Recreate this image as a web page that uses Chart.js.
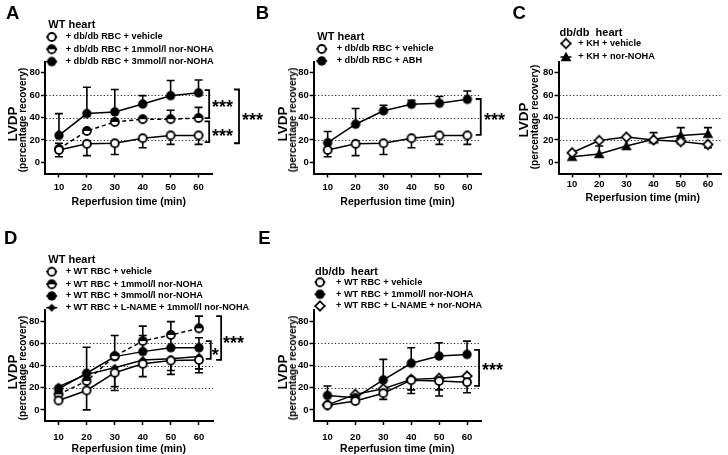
<!DOCTYPE html>
<html><head><meta charset="utf-8">
<script src="https://cdn.jsdelivr.net/npm/chart.js@4.4.1/dist/chart.umd.min.js"></script>
<style>
html,body{margin:0;padding:0;background:#fff;}
#stage{position:relative;width:728px;height:455px;overflow:hidden;background:#fff;font-family:'Liberation Sans',Arial,Helvetica,sans-serif;font-weight:bold;color:#000;}
#stage canvas{position:absolute;}
.t{position:absolute;white-space:pre;line-height:1;}
</style></head><body><div id="stage"></div>
<script>
// ---------------- DATA ----------------
const reperfusionTimes = [10, 20, 30, 40, 50, 60];
const xTickValues = [10, 20, 30, 40, 50, 60];
const yTickValues = [0, 20, 40, 60, 80];
const referenceLevels = [20, 40, 60];
const xAxisTitle = 'Reperfusion time (min)';
const yAxisTitle = 'LVDP';
const yAxisSubtitle = '(percentage recovery)';

// Panel A
const aLegendTitle = 'WT heart';
const aSeriesLabels = ['+ db/db RBC + vehicle', '+ db/db RBC + 1mmol/l nor-NOHA', '+ db/db RBC + 3mmol/l nor-NOHA'];
const aVehicle = [11, 16.5, 17, 21.5, 24, 24];
const aVehicleSdDown = [6, 10.5, 10, 8.5, 8, 8];
const aNor1 = [12, 28, 36, 38.5, 38.5, 39.5];
const aNor1SdUp = [5, 0, 0, 0, 8, 9.5];
const aNor3 = [24, 43.5, 45, 52, 59.5, 62];
const aNor3SdUp = [19.5, 23.5, 20, 7.5, 13.5, 11.5];
const aSignificance = ['***', '***', '***'];

// Panel B
const bLegendTitle = 'WT heart';
const bSeriesLabels = ['+ db/db RBC + vehicle', '+ db/db RBC + ABH'];
const bVehicle = [11, 16.5, 17, 21.5, 24, 24];
const bVehicleSdDown = [6, 10.5, 10, 8.5, 8, 8];
const bAbh = [17.5, 34, 46, 51.8, 52.7, 56.2];
const bAbhSdUp = [10, 14, 5, 3.5, 6, 7.5];
const bSignificance = ['***'];

// Panel C
const cLegendTitle = 'db/db  heart';
const cSeriesLabels = ['+ KH + vehicle', '+ KH + nor-NOHA'];
const cVehicle = [8.5, 19.5, 22.5, 20, 18.5, 16];
const cVehicleSdDown = [0, 0, 0, 0, 2, 3];
const cNor = [5, 7.5, 14.5, 20.5, 24, 25.5];
const cNorSdUp = [0, 7, 8.5, 6, 7, 5.5];

// Panel D
const dLegendTitle = 'WT heart';
const dSeriesLabels = ['+ WT RBC + vehicle', '+ WT RBC + 1mmol/l nor-NOHA', '+ WT RBC + 3mmol/l nor-NOHA', '+ WT RBC + L-NAME + 1mmol/l nor-NOHA'];
const dVehicle = [8.5, 17.5, 33.5, 41.5, 44.5, 45];
const dVehicleSdDown = [0, 17.5, 16, 11.5, 12.5, 11.5];
const dNor1 = [14, 26, 48.5, 62, 67.5, 73.5];
const dNor1SdUp = [0, 30.5, 18.5, 13.5, 12, 11];
const dNor3 = [19, 33, 48, 52.5, 56, 56];
const dNor3SdUp = [0, 0, 0, 14.5, 11, 9];
const dLname = [21, 32, 38, 45, 46, 48];
const dLnameSdDown = [0, 0, 17, 0, 10.5, 11];
const dSignificance = ['***', '*'];

// Panel E
const eLegendTitle = 'db/db  heart';
const eSeriesLabels = ['+ WT RBC + vehicle', '+ WT RBC + 1mmol/l nor-NOHA', '+ WT RBC + L-NAME + nor-NOHA'];
const eVehicle = [4.2, 8, 15, 26.8, 26, 25];
const eVehicleSdDown = [0, 0, 5.5, 12, 13.5, 9.5];
const eNor = [13, 11, 27, 42, 48.5, 50];
const eNorSdUp = [8.5, 0, 18.5, 14, 12, 12];
const eLname = [4.5, 14, 19, 27.5, 28.5, 30.5];
const eLnameSdDown = [0, 0, 0, 9.5, 10.5, 0];
const eSignificance = ['***'];

// ---------------- LAYOUT ----------------
const FONT = "'Liberation Sans', Arial, Helvetica, sans-serif";
Chart.defaults.font.family = FONT;
const stage = document.getElementById('stage');

function mk(draw) {
  const c = document.createElement('canvas');
  c.width = 14; c.height = 14;
  const g = c.getContext('2d');
  g.lineJoin = 'miter';
  draw(g);
  return c;
}
const markers = {
  openCircle: mk(g => { g.beginPath(); g.arc(7, 7, 4, 0, Math.PI * 2); g.fillStyle = '#fff'; g.fill(); g.lineWidth = 1.8; g.strokeStyle = '#000'; g.stroke(); }),
  filledCircle: mk(g => { g.beginPath(); g.arc(7, 7, 4.7, 0, Math.PI * 2); g.fillStyle = '#000'; g.fill(); }),
  halfCircle: mk(g => {
    g.beginPath(); g.arc(7, 7, 4, 0, Math.PI * 2); g.fillStyle = '#fff'; g.fill();
    g.beginPath(); g.arc(7, 7, 4, Math.PI, 0); g.closePath(); g.fillStyle = '#000'; g.fill();
    g.beginPath(); g.arc(7, 7, 4, 0, Math.PI * 2); g.lineWidth = 1.8; g.strokeStyle = '#000'; g.stroke();
  }),
  openDiamond: mk(g => { g.beginPath(); g.moveTo(7, 2.3); g.lineTo(11.7, 7); g.lineTo(7, 11.7); g.lineTo(2.3, 7); g.closePath(); g.fillStyle = '#fff'; g.fill(); g.lineWidth = 1.7; g.strokeStyle = '#000'; g.stroke(); }),
  smallDiamond: mk(g => { g.beginPath(); g.moveTo(7, 3); g.lineTo(11, 7); g.lineTo(7, 11); g.lineTo(3, 7); g.closePath(); g.fillStyle = '#000'; g.fill(); }),
  triangle: mk(g => { g.beginPath(); g.moveTo(7, 1.8); g.lineTo(12.3, 11.2); g.lineTo(1.7, 11.2); g.closePath(); g.fillStyle = '#000'; g.fill(); })
};

const panels = [
  { letter: 'A', letterPos: [6, 4.3], canvas: { x: 0, y: 0, w: 270, h: 228 }, area: { l: 45, t: 61.5, r: 212.5, b: 173.5 },
    legendTitle: aLegendTitle, titlePos: [48.3, 19], rows: [37, 49.3, 61.6], mX: 51.7, tX: 65.7,
    series: [
      { label: aSeriesLabels[0], mean: aVehicle, down: aVehicleSdDown, marker: 'openCircle' },
      { label: aSeriesLabels[1], mean: aNor1, up: aNor1SdUp, marker: 'halfCircle', dashed: true },
      { label: aSeriesLabels[2], mean: aNor3, up: aNor3SdUp, marker: 'filledCircle' }],
    brackets: [{ x: 63.8, from: 64.5, to: 39.5, tick: 4.5 }, { x: 63.8, from: 36.5, to: 18, tick: 4.5 }, { x: 74.5, from: 65, to: 17, tick: 5 }],
    stars: [{ text: aSignificance[0], x: 212, cy: 103 }, { text: aSignificance[1], x: 212, cy: 132 }, { text: aSignificance[2], x: 242, cy: 116 }],
    yTitle: [[12.7, 124], [23.3, 120]], xTitleY: 201, xPad: 4 },
  { letter: 'B', letterPos: [255.7, 4.3], canvas: { x: 268, y: 0, w: 252, h: 228 }, area: { l: 313.7, t: 61.5, r: 481.3, b: 173.5 },
    legendTitle: bLegendTitle, titlePos: [317.3, 30.7], rows: [49, 61], mX: 321.7, tX: 336.7,
    series: [
      { label: bSeriesLabels[0], mean: bVehicle, down: bVehicleSdDown, marker: 'openCircle' },
      { label: bSeriesLabels[1], mean: bAbh, up: bAbhSdUp, marker: 'filledCircle' }],
    brackets: [{ x: 64.8, from: 56.5, to: 24.4, tick: 5 }],
    stars: [{ text: bSignificance[0], x: 484, cy: 116 }],
    yTitle: [[282.7, 124], [293.3, 120]], xTitleY: 201, xPad: 4 },
  { letter: 'C', letterPos: [512.5, 4.3], canvas: { x: 513, y: 0, w: 215, h: 228 }, area: { l: 558.5, t: 61.5, r: 727, b: 173.5 },
    legendTitle: cLegendTitle, titlePos: [559.5, 26.7], rows: [43.5, 57], mX: 566, tX: 578.3,
    series: [
      { label: cSeriesLabels[0], mean: cVehicle, down: cVehicleSdDown, marker: 'openDiamond' },
      { label: cSeriesLabels[1], mean: cNor, up: cNorSdUp, marker: 'triangle' }],
    brackets: [], stars: [],
    yTitle: [[523.7, 120], [534.7, 117]], xTitleY: 197.3, xPad: 1.5 },
  { letter: 'D', letterPos: [4, 228.6], canvas: { x: 0, y: 225, w: 270, h: 230 }, area: { l: 44.5, t: 310, r: 213, b: 421 },
    legendTitle: dLegendTitle, titlePos: [48.3, 254], rows: [271.7, 284.3, 296, 307.7], mX: 51.7, tX: 65.7,
    series: [
      { label: dSeriesLabels[0], mean: dVehicle, down: dVehicleSdDown, marker: 'openCircle' },
      { label: dSeriesLabels[1], mean: dNor1, up: dNor1SdUp, marker: 'halfCircle', dashed: true },
      { label: dSeriesLabels[2], mean: dNor3, up: dNor3SdUp, marker: 'filledCircle' },
      { label: dSeriesLabels[3], mean: dLname, down: dLnameSdDown, marker: 'smallDiamond' }],
    brackets: [{ x: 67.9, from: 84.5, to: 45, tick: 5 }, { x: 64.2, from: 62, to: 46, tick: 5 }],
    stars: [{ text: dSignificance[0], x: 223, cy: 339 }, { text: dSignificance[1], x: 211.7, cy: 351 }],
    yTitle: [[12.7, 372], [23.3, 368]], xTitleY: 447.7, xPad: 7 },
  { letter: 'E', letterPos: [258.3, 229.3], canvas: { x: 268, y: 225, w: 252, h: 230 }, area: { l: 313.5, t: 310, r: 481, b: 421 },
    legendTitle: eLegendTitle, titlePos: [315, 265.7], rows: [282.3, 294.3, 306], mX: 320, tX: 336,
    series: [
      { label: eSeriesLabels[0], mean: eVehicle, down: eVehicleSdDown, marker: 'openCircle' },
      { label: eSeriesLabels[1], mean: eNor, up: eNorSdUp, marker: 'filledCircle' },
      { label: eSeriesLabels[2], mean: eLname, down: eLnameSdDown, marker: 'openDiamond' }],
    brackets: [{ x: 64.3, from: 54, to: 21.6, tick: 5 }],
    stars: [{ text: eSignificance[0], x: 482, cy: 366 }],
    yTitle: [[282.7, 372], [293.3, 368]], xTitleY: 448.3, xPad: 7 }
];

function addText(str, left, top, size, extra) {
  const d = document.createElement('div');
  d.className = 't'; d.textContent = str;
  d.style.left = left + 'px'; d.style.top = top + 'px'; d.style.fontSize = size + 'px';
  if (extra) Object.assign(d.style, extra);
  stage.appendChild(d);
  return d;
}
function addCentered(str, cx, cy, size, rotate) {
  return addText(str, cx, cy, size, { transform: 'translate(-50%,-50%)' + (rotate ? ' rotate(-90deg)' : '') });
}

const annotationPlugin = {
  id: 'panelDecor',
  beforeDatasetsDraw(chart) {
    const ctx = chart.ctx, ca = chart.chartArea, ys = chart.scales.y;
    ctx.save();
    // dotted reference lines
    ctx.strokeStyle = '#222'; ctx.lineWidth = 1.1; ctx.setLineDash([1.2, 2.2]);
    referenceLevels.forEach(v => {
      const y = Math.round(ys.getPixelForValue(v)) + 0.5;
      ctx.beginPath(); ctx.moveTo(ca.left + 1, y); ctx.lineTo(ca.right, y); ctx.stroke();
    });
    ctx.setLineDash([]);
    // error bars
    ctx.strokeStyle = '#000'; ctx.lineWidth = 1.6;
    chart.data.datasets.forEach((ds, i) => {
      const meta = chart.getDatasetMeta(i);
      meta.data.forEach((pt, j) => {
        const m = ds.means[j];
        [[ds.errUp, 1], [ds.errDown, -1]].forEach(([arr, sgn]) => {
          if (!arr || !arr[j]) return;
          const ye = ys.getPixelForValue(m + sgn * arr[j]);
          ctx.beginPath();
          ctx.moveTo(pt.x, pt.y); ctx.lineTo(pt.x, ye);
          ctx.moveTo(pt.x - 4, ye); ctx.lineTo(pt.x + 4, ye);
          ctx.stroke();
        });
      });
    });
    ctx.restore();
  },
  afterDraw(chart) {
    const p = chart.options.plugins.panelDecor.panel;
    const ctx = chart.ctx, xs = chart.scales.x, ys = chart.scales.y;
    ctx.save();
    // brackets
    ctx.strokeStyle = '#000'; ctx.lineWidth = 1.8; ctx.lineJoin = 'miter';
    p.brackets.forEach(b => {
      const x = xs.getPixelForValue(b.x), y1 = ys.getPixelForValue(b.from), y2 = ys.getPixelForValue(b.to);
      ctx.beginPath(); ctx.moveTo(x - b.tick, y1); ctx.lineTo(x, y1); ctx.lineTo(x, y2); ctx.lineTo(x - b.tick, y2); ctx.stroke();
    });
    // legend markers
    p.series.forEach((s, i) => {
      const mx = p.mX - p.canvas.x, my = p.rows[i] - p.canvas.y;
      ctx.lineWidth = 1.5; ctx.setLineDash(s.dashed ? [2.5, 2] : []);
      ctx.beginPath(); ctx.moveTo(mx - 5.5, my); ctx.lineTo(mx + 5.5, my); ctx.stroke();
      ctx.setLineDash([]);
      const img = markers[s.marker];
      ctx.drawImage(img, mx - img.width / 2, my - img.height / 2);
    });
    ctx.restore();
  }
};

panels.forEach(p => {
  const cv = document.createElement('canvas');
  cv.width = p.canvas.w; cv.height = p.canvas.h;
  cv.style.left = p.canvas.x + 'px'; cv.style.top = p.canvas.y + 'px';
  cv.style.width = p.canvas.w + 'px'; cv.style.height = p.canvas.h + 'px';
  stage.appendChild(cv);
  const tickFont = { family: FONT, size: 9.5, weight: 'bold' };
  new Chart(cv, {
    type: 'line',
    data: {
      datasets: p.series.map(s => ({
        label: s.label,
        data: reperfusionTimes.map((t, i) => ({ x: t, y: s.mean[i] })),
        means: s.mean, errUp: s.up, errDown: s.down,
        borderColor: '#000', borderWidth: 1.5, borderDash: s.dashed ? [4, 3] : [],
        pointStyle: markers[s.marker], pointRadius: 5, pointHoverRadius: 5,
        fill: false, tension: 0
      }))
    },
    options: {
      responsive: false, animation: false, maintainAspectRatio: false, devicePixelRatio: 1,
      events: [],
      layout: { padding: { left: 0, top: p.area.t - p.canvas.y, right: p.canvas.x + p.canvas.w - p.area.r, bottom: 0 } },
      plugins: { legend: { display: false }, tooltip: { enabled: false }, panelDecor: { panel: p } },
      scales: {
        x: {
          type: 'linear', min: 5, max: 65,
          afterBuildTicks: s => { s.ticks = xTickValues.map(v => ({ value: v })); },
          afterFit: s => { s.height = p.canvas.y + p.canvas.h - p.area.b; },
          grid: { display: true, drawOnChartArea: false, drawTicks: true, tickLength: 4, tickWidth: 1.5, tickColor: '#000', color: '#000' },
          border: { display: true, color: '#000', width: 2 },
          ticks: { color: '#000', font: tickFont, padding: p.xPad, maxRotation: 0, autoSkip: false },
          title: { display: false }
        },
        y: {
          type: 'linear', min: -10, max: 90,
          afterBuildTicks: s => { s.ticks = yTickValues.map(v => ({ value: v })); },
          afterFit: s => { s.width = p.area.l - p.canvas.x; },
          grid: { display: true, drawOnChartArea: false, drawTicks: true, tickLength: 4, tickWidth: 1.5, tickColor: '#000', color: '#000' },
          border: { display: true, color: '#000', width: 2 },
          ticks: { color: '#000', font: tickFont, padding: 1, autoSkip: false },
          title: { display: false }
        }
      }
    },
    plugins: [annotationPlugin]
  });

  // texts
  addText(p.letter, p.letterPos[0], p.letterPos[1], 18.5);
  addText(p.legendTitle, p.titlePos[0], p.titlePos[1], 11);
  p.series.forEach((s, i) => addText(s.label, p.tX, p.rows[i] - 4.6, 9.2));
  p.stars.forEach(st => addText(st.text, st.x, st.cy - 5, 18));
  addCentered(yAxisTitle, p.yTitle[0][0], p.yTitle[0][1], 13.5, true);
  addCentered(yAxisSubtitle, p.yTitle[1][0], p.yTitle[1][1], 10, true);
  addCentered(xAxisTitle, (p.area.l + p.area.r) / 2, p.xTitleY, 10.5, false);
});
</script></body></html>
